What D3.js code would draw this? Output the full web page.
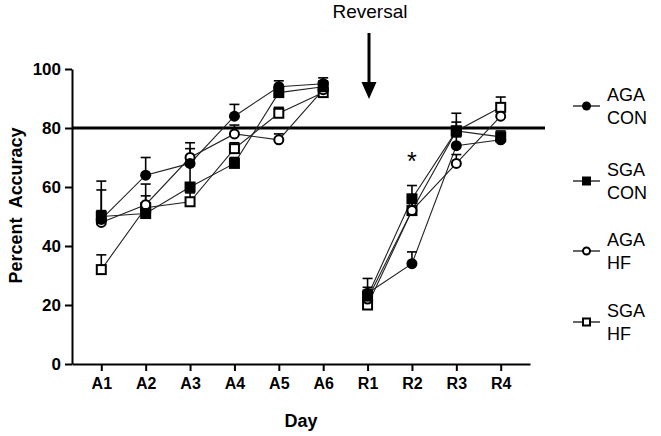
<!DOCTYPE html>
<html>
<head>
<meta charset="utf-8">
<script src="https://cdn.jsdelivr.net/npm/d3@7"></script>
<style>
  html, body { margin: 0; padding: 0; background: #fff; }
  svg { display: block; font-family: "Liberation Sans", Arial, sans-serif; }
</style>
</head>
<body>
<svg id="chart" width="661" height="436"></svg>
<script>
// ---- Data ----
const days = ["A1", "A2", "A3", "A4", "A5", "A6", "R1", "R2", "R3", "R4"];
const acquisitionDays = ["A1", "A2", "A3", "A4", "A5", "A6"];
const reversalDays = ["R1", "R2", "R3", "R4"];
const yTicks = [0, 20, 40, 60, 80, 100];
const criterion = 80;

const agaCon    = [49, 64, 68, 84, 94, 95, 24, 34, 74, 76];
const agaConErr = [10, 6, 5, 4, 2, 2, 5, 4, 3, 2];
const sgaCon    = [50, 51, 60, 68, 92, 94, 23, 56, 79, 77];
const sgaConErr = [2, 3, 8, 2, 2, 2, 3, 4.5, 6, 2];
const agaHf     = [48, 54, 70, 78, 76, 93, 22, 52, 68, 84];
const agaHfErr  = [14, 7, 5, 3, 2, 2, 3, 3, 3, 2];
const sgaHf     = [32, 53, 55, 73, 85, 92, 20, 52, 79, 87];
const sgaHfErr  = [5, 4, 3, 2, 2, 2, 3, 3, 3, 3.5];

const seriesNames = [["AGA", "CON"], ["SGA", "CON"], ["AGA", "HF"], ["SGA", "HF"]];

const series = [
  { name: seriesNames[0], values: agaCon, err: agaConErr, shape: "circle", filled: true },
  { name: seriesNames[1], values: sgaCon, err: sgaConErr, shape: "square", filled: true },
  { name: seriesNames[2], values: agaHf, err: agaHfErr, shape: "circle", filled: false },
  { name: seriesNames[3], values: sgaHf, err: sgaHfErr, shape: "square", filled: false }
];

// ---- Layout ----
const svg = d3.select("#chart");
const plotLeft = 72, plotRight = 530, plotTop = 69, plotBottom = 364;

const x = d3.scalePoint().domain(days).range([plotLeft, plotRight]).padding(0.66);
const y = d3.scaleLinear().domain([0, 100]).range([plotBottom, plotTop]);

// Y axis
const yAxis = svg.append("g")
  .attr("transform", `translate(${plotLeft},0)`)
  .call(d3.axisLeft(y).tickValues(yTicks).tickSize(7).tickSizeOuter(0).tickPadding(4));
yAxis.select(".domain").attr("stroke", "#000").attr("stroke-width", 2);
yAxis.selectAll(".tick line").attr("stroke", "#000").attr("stroke-width", 2);
yAxis.selectAll(".tick text")
  .attr("fill", "#000").style("font-size", "17px").style("font-weight", "bold")
  .style("font-family", "'Liberation Sans', Arial, sans-serif");

// X axis
const xAxis = svg.append("g")
  .attr("transform", `translate(0,${plotBottom})`)
  .call(d3.axisBottom(x).tickSize(7).tickSizeOuter(0).tickPadding(7));
xAxis.select(".domain").attr("stroke", "#000").attr("stroke-width", 2);
xAxis.selectAll(".tick line").attr("stroke", "#000").attr("stroke-width", 2);
xAxis.selectAll(".tick text")
  .attr("fill", "#000").style("font-size", "16px").style("font-weight", "bold")
  .style("font-family", "'Liberation Sans', Arial, sans-serif");

// Axis titles
svg.append("text")
  .attr("x", (plotLeft + plotRight) / 2).attr("y", 427)
  .attr("text-anchor", "middle")
  .style("font-size", "18px").style("font-weight", "bold")
  .text("Day");

svg.append("text")
  .attr("transform", `translate(22,${(plotTop + plotBottom) / 2 - 11}) rotate(-90)`)
  .attr("text-anchor", "middle")
  .attr("textLength", 156).attr("lengthAdjust", "spacingAndGlyphs")
  .style("font-size", "18px").style("font-weight", "bold")
  .style("white-space", "pre")
  .text("Percent  Accuracy");

// Criterion line
svg.append("line")
  .attr("x1", plotLeft).attr("x2", 545)
  .attr("y1", y(criterion)).attr("y2", y(criterion))
  .attr("stroke", "#000").attr("stroke-width", 3);

// Reversal annotation
svg.append("text")
  .attr("x", 370).attr("y", 18)
  .attr("text-anchor", "middle")
  .style("font-size", "19px")
  .text("Reversal");
svg.append("line")
  .attr("x1", 369).attr("x2", 369).attr("y1", 33).attr("y2", 84)
  .attr("stroke", "#000").attr("stroke-width", 3);
svg.append("path")
  .attr("d", `M${369 - 7.5},82 L${369 + 7.5},82 L369,99 Z`)
  .attr("fill", "#000");

// Significance star
svg.append("text")
  .attr("x", x("R2")).attr("y", 170)
  .attr("text-anchor", "middle")
  .style("font-size", "25px")
  .text("*");

// Lines
const line = d3.line().x(d => x(d.day)).y(d => y(d.v));
const linesG = svg.append("g");
series.forEach(s => {
  const pts = days.map((d, i) => ({ day: d, v: s.values[i] }));
  [acquisitionDays, reversalDays].forEach(seg => {
    linesG.append("path")
      .datum(pts.filter(p => seg.includes(p.day)))
      .attr("d", line)
      .attr("fill", "none").attr("stroke", "#222").attr("stroke-width", 1.1);
  });
});

// Error bars (upper only)
const errG = svg.append("g").attr("stroke", "#000").attr("stroke-width", 1.6);
series.forEach(s => {
  days.forEach((d, i) => {
    const cx = x(d), v = s.values[i], e = s.err[i];
    errG.append("line").attr("x1", cx).attr("x2", cx).attr("y1", y(v)).attr("y2", y(v + e));
    errG.append("line").attr("x1", cx - 5).attr("x2", cx + 5).attr("y1", y(v + e)).attr("y2", y(v + e));
  });
});

// Markers
function drawMarker(g, shape, filled, cx, cy, size) {
  const sw = 2;
  if (shape === "circle") {
    g.append("circle").attr("cx", cx).attr("cy", cy)
      .attr("r", filled ? size / 2 : size / 2 - sw / 2)
      .attr("fill", filled ? "#000" : "#fff")
      .attr("stroke", "#000").attr("stroke-width", filled ? 0 : sw);
  } else {
    const h = filled ? size / 2 : size / 2 - sw / 2;
    g.append("rect").attr("x", cx - h).attr("y", cy - h)
      .attr("width", 2 * h).attr("height", 2 * h)
      .attr("fill", filled ? "#000" : "#fff")
      .attr("stroke", "#000").attr("stroke-width", filled ? 0 : sw);
  }
}
const markG = svg.append("g");
[3, 2, 1, 0].forEach(k => {
  const s = series[k];
  days.forEach((d, i) => drawMarker(markG, s.shape, s.filled, x(d), y(s.values[i]), 11));
});

// Legend
const legendY = [106, 181, 251, 322];
const legG = svg.append("g");
series.forEach((s, k) => {
  const ly = legendY[k];
  legG.append("line").attr("x1", 573).attr("x2", 600).attr("y1", ly).attr("y2", ly)
    .attr("stroke", "#000").attr("stroke-width", 1.2);
  drawMarker(legG, s.shape, s.filled, 586.5, ly, 9);
  s.name.forEach((t, j) => {
    legG.append("text")
      .attr("x", 607).attr("y", ly - 5 + j * 23)
      .style("font-size", "18px")
      .text(t);
  });
});
</script>
</body>
</html>
